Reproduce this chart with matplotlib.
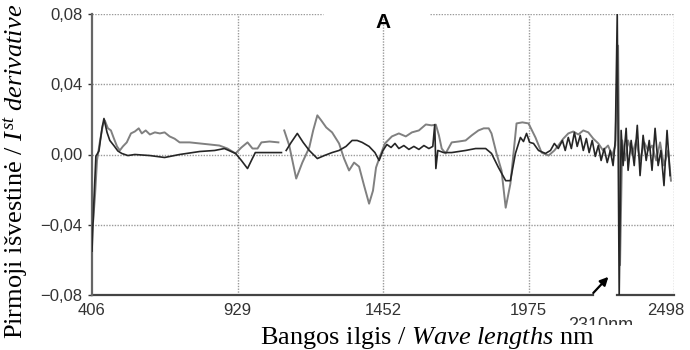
import numpy as np
import matplotlib
matplotlib.use("Agg")
import matplotlib.pyplot as plt
from matplotlib.patches import Rectangle
from matplotlib.transforms import offset_copy

plt.rcParams.update({
    "font.family": "Liberation Sans",
    "mathtext.fontset": "custom",
    "mathtext.rm": "Liberation Serif",
    "mathtext.it": "Liberation Serif:italic",
})

# first derivative spectra
wl_dark = [406, 413, 420, 431, 442, 449, 460, 470, 485, 499, 513, 535, 560, 614, 667, 721, 793, 847,
           882, 922, 943, 965, 979, 993, 1026, 1087, 1095, 1104, 1122, 1144, 1165, 1187, 1216, 1241,
           1269, 1294, 1319, 1341, 1359, 1377, 1402, 1423, 1438, 1452, 1466, 1481, 1495, 1509, 1527,
           1545, 1563, 1581, 1599, 1617, 1631, 1638, 1642, 1649, 1670, 1699, 1749, 1785, 1821, 1842,
           1867, 1893, 1910, 1928, 1946, 1957, 1968, 1979, 1993, 2011, 2036, 2054, 2068, 2082, 2097,
           2107, 2118, 2129, 2140, 2150, 2161, 2172, 2183, 2193, 2204, 2215, 2226, 2236, 2247, 2258,
           2269, 2279, 2287, 2294, 2301, 2308, 2315, 2326, 2333, 2344, 2355, 2366, 2376, 2387, 2398,
           2409, 2419, 2430, 2441, 2451, 2462, 2473, 2484]
d_dark = [-0.055, -0.026, -0.001, 0.002, 0.015, 0.0205, 0.0126, 0.008, 0.005, 0.002, 0.0006, -0.0006,
          0.0, -0.0006, -0.0017, 0.0, 0.0017, 0.0023, 0.0034, 0.0006, -0.0034, -0.008, -0.0034, 0.0011,
          0.0011, 0.0011, np.nan, 0.0023, 0.0069, 0.012, 0.0069, 0.0023, -0.0023, -0.0006, 0.0011,
          0.0023, 0.0046, 0.008, 0.008, 0.0069, 0.0046, 0.0011, -0.0034, 0.0023, 0.0057, 0.004, 0.0063,
          0.0034, 0.0051, 0.0029, 0.0046, 0.0029, 0.0051, 0.0034, 0.0046, 0.017, -0.008, 0.0023, 0.0011,
          0.0011, 0.0023, 0.0034, 0.0034, 0.0006, -0.0074, -0.0149, -0.0149, 0.0006, 0.0097, 0.0074,
          0.012, 0.0069, 0.0063, 0.0023, 0.0006, 0.0023, 0.0063, 0.0034, 0.008, 0.0023, 0.0097, 0.0034,
          0.0126, 0.0046, 0.0109, 0.0023, 0.0091, 0.0011, 0.008, -0.0011, 0.0051, -0.0034, 0.0034,
          -0.0046, 0.0023, -0.0063, 0.008, 0.08, -0.08, 0.0137, -0.0063, 0.0149, -0.009, 0.008, -0.0063,
          0.0166, -0.012, 0.0109, -0.0034, 0.008, -0.009, 0.0149, -0.0063, 0.0023, -0.0177, 0.0137,
          -0.012]

wl_gray = [410, 417, 424, 435, 445, 452, 463, 474, 485, 496, 506, 517, 531, 546, 560, 574, 585, 599,
           614, 632, 650, 667, 685, 703, 721, 757, 793, 829, 864, 893, 922, 943, 965, 983, 1001, 1015,
           1044, 1076, 1087, 1097, 1115, 1140, 1162, 1187, 1201, 1216, 1230, 1248, 1269, 1294, 1312,
           1330, 1348, 1366, 1384, 1402, 1416, 1427, 1441, 1459, 1484, 1509, 1534, 1556, 1581, 1606,
           1627, 1642, 1653, 1663, 1677, 1699, 1724, 1749, 1771, 1795, 1814, 1832, 1842, 1860, 1878,
           1893, 1910, 1932, 1953, 1975, 2000, 2022, 2047, 2068, 2082, 2100, 2118, 2136, 2154, 2172,
           2190, 2208, 2226, 2243, 2261, 2276, 2287, 2297, 2304, 2312, 2322, 2333, 2348, 2362, 2376,
           2391, 2405, 2419, 2434, 2448, 2462, 2477, 2487]
d_gray = [-0.038, -0.023, -0.0034, 0.008, 0.0166, 0.0194, 0.015, 0.0137, 0.009, 0.0046, 0.0023, 0.0046,
          0.0069, 0.012, 0.0131, 0.0149, 0.012, 0.0137, 0.0114, 0.0126, 0.012, 0.0126, 0.0103, 0.009,
          0.0069, 0.0069, 0.0063, 0.0057, 0.0051, 0.0034, 0.0006, 0.004, 0.0069, 0.0034, 0.0034, 0.0069,
          0.0074, 0.0069, np.nan, 0.0137, 0.0051, -0.0137, -0.0046, 0.004, 0.0137, 0.0223, 0.0194,
          0.0154, 0.0126, 0.0063, -0.0023, -0.0091, -0.0046, -0.0069, -0.0177, -0.028, -0.0206, -0.0074,
          -0.0011, 0.0063, 0.0103, 0.012, 0.0103, 0.0126, 0.0137, 0.0171, 0.0166, 0.017, 0.0109, 0.0034,
          0.0006, 0.0069, 0.0074, 0.008, 0.0109, 0.0137, 0.0149, 0.0149, 0.012, 0.0006, -0.0091,
          -0.0303, -0.0166, 0.0177, 0.0183, 0.0177, 0.0097, 0.0011, -0.0006, 0.0023, 0.0051, 0.009,
          0.012, 0.0131, 0.0114, 0.0137, 0.0126, 0.009, 0.0063, 0.0023, 0.0051, -0.0006, 0.0051, 0.062,
          -0.063, 0.008, -0.0034, 0.008, 0.0, 0.008, -0.0034, 0.0069, 0.0023, 0.0051, -0.0034, 0.0069,
          -0.0063, 0.0023, -0.0149]

xticks = [406, 929, 1452, 1975, 2498]
yticks = [-0.08, -0.04, 0.0, 0.04, 0.08]
ytick_labels = ["\u22120,08", "\u22120,04", "0,00", "0,04", "0,08"]

fig = plt.figure(figsize=(6.9, 3.5), dpi=100)
ax = fig.add_axes([92 / 690, 55 / 350, 582 / 690, 281 / 350])

ax.plot(wl_gray, d_gray, color="#808080", lw=1.4, zorder=3)
ax.plot(wl_dark, d_dark, color="#262626", lw=1.2, zorder=4)

ax.set_xlim(406, 2498)
ax.set_ylim(-0.08, 0.08)
ax.set_xticks(xticks)
ax.set_yticks(yticks)
ax.set_yticklabels(ytick_labels)
ax.tick_params(axis="both", labelsize=12, colors="#333333", length=3, width=1)
ax.tick_params(axis="x", length=0, pad=6)
ax.tick_params(axis="y", pad=4)
# last x label sits a bit inside the figure
last = ax.get_xticklabels()[-1]
last.set_transform(offset_copy(last.get_transform(), fig=fig, x=-8, y=0, units="dots"))

# grid: dotted grey
for gx in xticks[1:]:
    ax.axvline(gx, color="#9a9a9a", lw=1, ls=(0, (1, 1)), zorder=1)
for gy in yticks[1:4]:
    ax.axhline(gy, color="#9a9a9a", lw=1, ls=(0, (1, 1)), zorder=1)
# top line interrupted by the panel letter
ax.axhline(0.08, xmin=0, xmax=(323 - 92) / 582, color="#9a9a9a", lw=1, ls=(0, (1, 1)), zorder=1)
ax.axhline(0.08, xmin=(430 - 92) / 582, xmax=1, color="#9a9a9a", lw=1, ls=(0, (1, 1)), zorder=1)

for s in ["top", "right", "bottom"]:
    ax.spines[s].set_visible(False)
ax.spines["left"].set_color("#666666")
ax.spines["left"].set_linewidth(1.6)
# bottom axis line broken by the arrow
ax.axhline(-0.08, xmin=0, xmax=(593 - 92) / 582, color="#444444", lw=1.6, zorder=2, clip_on=False)
ax.axhline(-0.08, xmin=(617 - 92) / 582, xmax=1, color="#444444", lw=1.6, zorder=2, clip_on=False)

ax.text(0.5, 0.97, "A", transform=ax.transAxes, ha="center", va="center",
        fontsize=15, fontweight="bold")

ax.annotate("", xy=(2269, -0.0685), xytext=(2201, -0.0800),
            arrowprops=dict(arrowstyle="-|>", color="black", lw=1.6, mutation_scale=12),
            annotation_clip=False)

fig.text(601 / 690, 1 - 326 / 350, "2310nm", ha="center", va="center", fontsize=13,
         color="#333333", zorder=3)
fig.patches.append(Rectangle((0.3, 0), 0.65, 1 - 325 / 350, transform=fig.transFigure,
                             facecolor="white", edgecolor="none", zorder=4))
fig.text(427 / 690, 1 - 338 / 350, r"Bangos ilgis / $\mathit{Wave\ lengths}$ nm", ha="center",
         va="center", fontsize=19, family="Liberation Serif", zorder=5)
fig.text(16 / 690, 1 - 171 / 350, r"Pirmoji išvestinė / $\mathit{I^{st}\ derivative}$", ha="center",
         va="center", rotation=90, fontsize=19, family="Liberation Serif", zorder=5)

fig.savefig("out.png", dpi=100)
